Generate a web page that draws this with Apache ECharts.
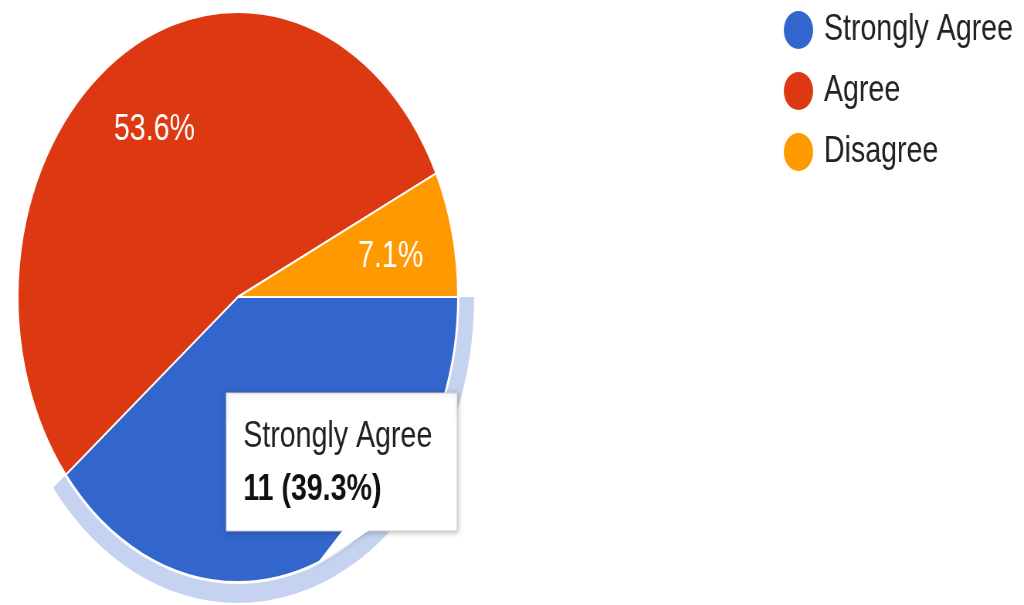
<!DOCTYPE html>
<html><head><meta charset="utf-8">
<script src="https://cdn.jsdelivr.net/npm/echarts@6/dist/echarts.min.js"></script>
<style>
html,body{margin:0;padding:0;background:#fff;overflow:hidden;width:1024px;height:605px}
#chart{width:1326px;height:605px;transform:scaleX(0.7722);transform-origin:0 0;}
</style></head><body><div id="chart"></div>
<script>
const categories = ['Strongly Agree', 'Agree', 'Disagree'];
const counts = [11, 15, 2];
const highlightedIndex = 0;

const palette = ['#3366cc', '#dc3912', '#ff9900'];
const FONT = '"Liberation Sans", Arial, sans-serif';
const total = counts.reduce((a, b) => a + b, 0);
const pct = v => (v / total * 100).toFixed(1) + '%';

const chart = echarts.init(document.getElementById('chart'), null, {renderer: 'canvas'});
const center = [308, 297];

const option = {
  animation: false,
  backgroundColor: '#ffffff',
  legend: {
    orient: 'vertical',
    left: 1010,
    top: 6,
    icon: 'circle',
    itemWidth: 38,
    itemHeight: 38,
    itemGap: 23,
    selectedMode: false,
    itemStyle: {borderWidth: 0},
    textStyle: {fontSize: 37, color: '#222222', fontFamily: FONT, padding: [0, 0, 0, 9]},
    data: categories.map((c, i) => ({name: c, itemStyle: {color: palette[i], borderWidth: 0}}))
  },
  series: [
    {
      type: 'pie',
      center: center,
      radius: [0, 285],
      startAngle: 0,
      clockwise: true,
      silent: true,
      label: {show: false},
      labelLine: {show: false},
      itemStyle: {borderColor: '#ffffff', borderWidth: 2},
      data: categories.map((c, i) => ({name: c, value: counts[i], itemStyle: {color: palette[i]}}))
    },
    {
      type: 'pie',
      center: center,
      radius: [115, 285],
      startAngle: 0,
      clockwise: true,
      silent: true,
      avoidLabelOverlap: false,
      label: {
        show: true, position: 'inside', fontSize: 37, color: '#ffffff', fontFamily: FONT,
        offset: [0, 5],
        formatter: p => pct(p.value)
      },
      labelLine: {show: false},
      itemStyle: {color: 'rgba(0,0,0,0)', borderWidth: 0},
      data: categories.map((c, i) => ({
        name: c, value: counts[i],
        label: {show: i !== highlightedIndex}
      }))
    },
    {
      type: 'pie',
      center: center,
      radius: [287, 306],
      startAngle: 0,
      clockwise: true,
      silent: true,
      label: {show: false},
      labelLine: {show: false},
      itemStyle: {borderWidth: 0},
      data: categories.map((c, i) => ({
        name: c, value: counts[i],
        itemStyle: {color: i === highlightedIndex ? '#c5d3f1' : 'rgba(0,0,0,0)'}
      }))
    }
  ],
  graphic: [
    {
      type: 'group',
      z: 100,
      children: [
        {
          type: 'rect',
          shape: {x: 293, y: 393, width: 299, height: 138},
          style: {fill: '#ffffff', stroke: '#d0d0d0', lineWidth: 1,
                  shadowBlur: 6, shadowColor: 'rgba(0,0,0,0.25)', shadowOffsetX: 1, shadowOffsetY: 1},
          z: 100
        },
        {
          type: 'polygon',
          shape: {points: [[444, 530], [479, 530], [408, 566]]},
          style: {fill: '#ffffff', shadowBlur: 4, shadowColor: 'rgba(0,0,0,0.15)', shadowOffsetX: 1, shadowOffsetY: 1},
          z: 101
        },
        {
          type: 'rect',
          shape: {x: 294, y: 420, width: 297, height: 110},
          style: {fill: '#ffffff'},
          z: 102
        },
        {
          type: 'text',
          x: 315, y: 437,
          style: {text: categories[highlightedIndex], fontSize: 37, fontFamily: FONT,
                  fill: '#222222', verticalAlign: 'middle', align: 'left'},
          z: 103
        },
        {
          type: 'text',
          x: 315, y: 490,
          style: {text: counts[highlightedIndex] + ' (' + pct(counts[highlightedIndex]) + ')',
                  fontSize: 37, fontWeight: 'bold', fontFamily: FONT,
                  fill: '#111111', verticalAlign: 'middle', align: 'left'},
          z: 103
        }
      ]
    }
  ]
};
chart.setOption(option);
</script></body></html>
